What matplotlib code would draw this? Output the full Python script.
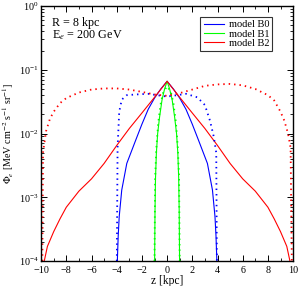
import matplotlib
matplotlib.use("Agg")
import matplotlib.pyplot as plt
from matplotlib.ticker import LogLocator, MultipleLocator, NullFormatter

plt.rcParams['font.family'] = ['Liberation Serif', 'DejaVu Serif']
plt.rcParams['mathtext.fontset'] = 'stix'

# model B0 (blue)
z_b0 = [-3.95, -3.88, -3.8, -3.6, -3.2, -2.5, -2.0, -1.5, -1.0, -0.5, 0.0,
        0.5, 1.0, 1.5, 2.0, 2.5, 3.2, 3.6, 3.8, 3.88, 3.95]
phi_b0 = [1e-4, 2.5e-4, 5e-4, 1.3e-3, 3.4e-3, 7.8e-3, 0.014, 0.024, 0.036, 0.05, 0.066,
          0.05, 0.036, 0.024, 0.014, 7.8e-3, 3.4e-3, 1.3e-3, 5e-4, 2.5e-4, 1e-4]
z_b0d = [-3.99, -3.93, -3.8, -3.6, -3.2, -2.5, -1.5, -0.8, 0.0, 0.8, 1.5, 2.4,
         3.0, 3.4, 3.7, 3.9, 3.95]
phi_b0d = [1e-4, 6e-3, 0.022, 0.034, 0.040, 0.041, 0.042, 0.040, 0.038, 0.040,
           0.042, 0.037, 0.028, 0.016, 9e-3, 5e-3, 1e-4]

# model B1 (green)
z_b1 = [-0.99, -0.96, -0.92, -0.85, -0.75, -0.6, -0.4, -0.2, 0.0,
        0.2, 0.4, 0.6, 0.75, 0.85, 0.92, 0.96, 0.99]
phi_b1 = [1e-4, 6e-4, 2e-3, 5e-3, 0.01, 0.018, 0.034, 0.05, 0.066,
          0.05, 0.034, 0.018, 0.01, 5e-3, 2e-3, 6e-4, 1e-4]
z_b1d = [-1.0, -0.95, -0.85, -0.7, -0.5, -0.3, 0.0, 0.3, 0.5, 0.7, 0.85, 0.95, 1.0]
phi_b1d = [1e-4, 2e-3, 6e-3, 0.015, 0.03, 0.045, 0.055, 0.045, 0.03, 0.015,
           6e-3, 2e-3, 1e-4]

# model B2 (red)
z_b2 = [-9.75, -9.5, -9.0, -8.5, -8.0, -7.0, -6.0, -5.0, -4.0, -3.0, -2.0, -1.0, 0.0,
        1.0, 2.0, 3.0, 4.0, 5.0, 6.0, 7.0, 8.0, 8.5, 9.0, 9.5, 9.75]
phi_b2 = [1e-4, 1.7e-4, 2.9e-4, 4.6e-4, 7e-4, 1.25e-3, 1.95e-3, 3.4e-3, 6.5e-3, 0.012,
          0.021, 0.037, 0.066,
          0.037, 0.021, 0.012, 6.5e-3, 3.4e-3, 1.95e-3, 1.25e-3, 7e-4, 4.6e-4, 2.9e-4,
          1.7e-4, 1e-4]
z_b2d = [-9.9, -9.85, -9.6, -9.3, -9.0, -8.5, -8.0, -7.0, -6.0, -5.0, -4.0, -3.0, -2.0,
         -1.0, 0.0, 1.0, 2.0, 3.0, 4.0, 5.0, 6.0, 7.0, 8.0, 8.5, 9.0, 9.3, 9.6, 9.8, 9.9]
phi_b2d = [1e-4, 5e-3, 0.011, 0.017, 0.022, 0.030, 0.036, 0.044, 0.049, 0.051, 0.051,
           0.049, 0.045, 0.041, 0.039, 0.043, 0.049, 0.056, 0.059, 0.060, 0.057, 0.050,
           0.040, 0.033, 0.022, 0.016, 0.010, 6e-3, 1e-4]

labels = ["model B0", "model B1", "model B2"]
colors = ["#0000ff", "#00ff00", "#ff0000"]

fig = plt.figure(figsize=(3.0, 2.86), dpi=100)
ax = fig.add_axes([0.137, 0.087, 0.840, 0.892])

ax.plot(z_b0, phi_b0, color=colors[0], lw=0.8, label=labels[0])
ax.plot(z_b1, phi_b1, color=colors[1], lw=0.8, label=labels[1])
ax.plot(z_b2, phi_b2, color=colors[2], lw=0.8, label=labels[2])
ax.plot(z_b0d, phi_b0d, color=colors[0], lw=1.3, ls=(0, (0.8, 2.2)))
ax.plot(z_b1d, phi_b1d, color=colors[1], lw=1.3, ls=(0, (0.8, 2.2)))
ax.plot(z_b2d, phi_b2d, color=colors[2], lw=1.3, ls=(0, (0.8, 2.2)))

ax.set_yscale('log')
ax.set_xlim(-10, 10)
ax.set_ylim(1e-4, 1)
ax.xaxis.set_major_locator(MultipleLocator(2))
ax.xaxis.set_minor_locator(MultipleLocator(1))
ax.yaxis.set_major_locator(LogLocator(base=10, numticks=10))
ax.yaxis.set_minor_locator(LogLocator(base=10, subs=range(2, 10), numticks=10))
ax.yaxis.set_minor_formatter(NullFormatter())
ax.tick_params(which='both', direction='in', top=True, right=True, labelsize=7.3, pad=2)
ax.tick_params(axis='x', which='both', pad=3.5)
ax.tick_params(which='major', length=4.5, width=0.7)
ax.tick_params(which='minor', length=2.5, width=0.6)
for s in ax.spines.values():
    s.set_linewidth(1.0)

ax.set_xlabel("z [kpc]", fontsize=8.3, labelpad=0)
ax.set_ylabel(r"$\Phi_e$ [MeV cm$^{-2}$ s$^{-1}$ sr$^{-1}$]", fontsize=7.3, labelpad=2)

ax.text(-9.13, 0.54, "R = 8 kpc", fontsize=8.7, va='center')
ax.text(-9.13, 0.35, r"E$_e$ = 200 GeV", fontsize=8.7, va='center')

leg = ax.legend(loc='upper right', bbox_to_anchor=(0.917, 0.957), fontsize=7.5,
                frameon=True, fancybox=False, edgecolor='black', handlelength=2.0,
                borderpad=0.3, labelspacing=0.0, handletextpad=0.4, borderaxespad=0.0)
leg.get_frame().set_linewidth(0.8)

fig.savefig("out.png", dpi=100)
